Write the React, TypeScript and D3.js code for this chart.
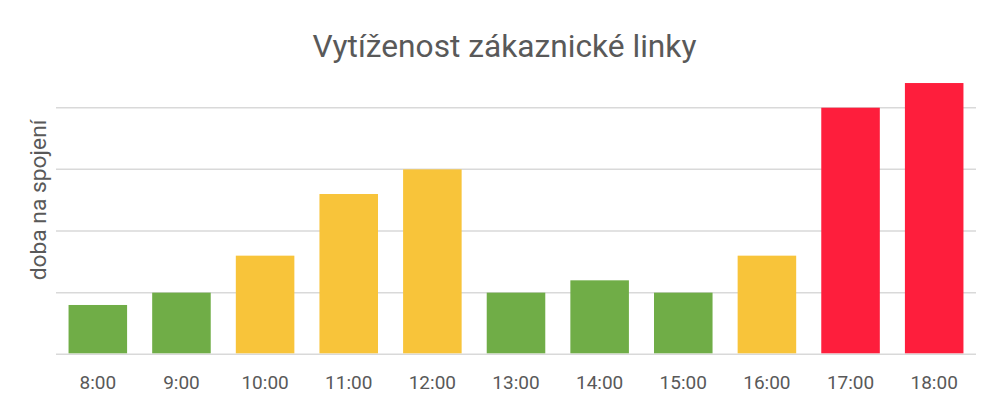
import React from "react";
import * as d3 from "d3";

const categories = ["8:00", "9:00", "10:00", "11:00", "12:00", "13:00", "14:00", "15:00", "16:00", "17:00", "18:00"];
const values = [4, 5, 8, 13, 15, 5, 6, 5, 8, 20, 22];
const levels = ["low", "low", "mid", "mid", "mid", "low", "low", "low", "mid", "high", "high"];
const gridTicks = [0, 5, 10, 15, 20];
const levelColors: Record<string, string> = { low: "#70AD47", mid: "#F8C43A", high: "#FE1E3C" };

const W = 1000, H = 405;
const M = { left: 56, right: 24, top: 46, bottom: 50.7 };

export default function App() {
  const x = d3.scaleBand<string>().domain(categories).range([M.left, W - M.right]).paddingInner(0.3).paddingOuter(0.15);
  const y = d3.scaleLinear().domain([0, 22.5]).range([354.3, 354.3 - 61.65 * 4.5]);
  return (
    <svg width={W} height={H} style={{ position: "absolute", left: 0, top: 0, background: "#fff" }}>
      <text x={504.5} y={57} textAnchor="middle" fontFamily="Roboto" fontSize={31.7} fill="#595959">Vytíženost zákaznické linky</text>
      {gridTicks.map((t) => (
        <line key={t} x1={M.left} x2={W - M.right} y1={y(t)} y2={y(t)} stroke="#d9d9d9" strokeWidth={1.5} />
      ))}
      {categories.map((c, i) => (
        <rect key={c} x={x(c)} y={y(values[i])} width={x.bandwidth()} height={y(0) - y(values[i]) - 1} fill={levelColors[levels[i]]} />
      ))}
      {categories.map((c) => (
        <text key={c} x={(x(c) as number) + x.bandwidth() / 2} y={388.5} textAnchor="middle" fontFamily="Roboto" fontSize={19} fill="#595959">{c}</text>
      ))}
      <text transform="translate(45.5,200) rotate(-90)" textAnchor="middle" fontFamily="Roboto" fontSize={22.8} fill="#595959">doba na spojení</text>
    </svg>
  );
}
